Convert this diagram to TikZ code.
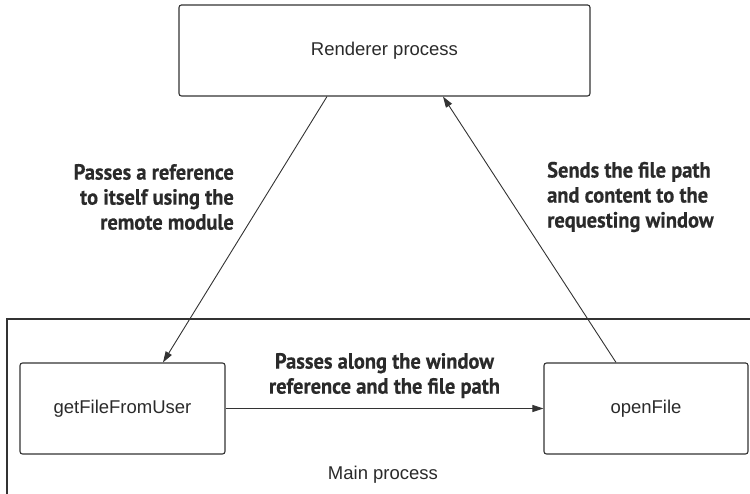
\documentclass[tikz,border=0pt]{standalone}
\usepackage{fontspec}
\setmainfont{Liberation Sans}
\newfontfamily\lblfont[FakeStretch=0.93, BoldFeatures={FakeBold=0.5}]{PT Sans}
\usepackage{tikz}
\usetikzlibrary{arrows.meta, positioning}
\definecolor{mline}{HTML}{333333}
\definecolor{mtext}{HTML}{2A2A2A}
\tikzset{
  fnbox/.style={draw=mline, rounded corners=2.5pt, line width=1.1pt,
                minimum width=205pt, minimum height=91pt, inner sep=0pt,
                font=\fontsize{18.5}{22}\selectfont, text=mtext},
  lbl/.style={font=\lblfont\bfseries\fontsize{22}{25}\selectfont, text=mtext, inner sep=0pt},
  arr/.style={-{Triangle[length=11pt, width=7pt]}, line width=0.9pt, mline},
}
\begin{document}
\begin{tikzpicture}[x=1pt, y=1pt]
  \useasboundingbox (0,0) rectangle (750,494);
  \clip (0,0) rectangle (750,494);
  % main process frame runs past the page edge
  \draw[mline, line width=1.1pt] (7,-20) -- (7,175) -- (770,175);
  \node[font=\fontsize{18.5}{22}\selectfont, text=mtext, anchor=base] (mainlbl) at (383,14) {Main process};

  \node[fnbox, minimum width=411pt] (renderer) at (384.5,443.5) {Renderer process};
  \node[fnbox] (getfile) at (122.5,85.5) {getFileFromUser};
  \node[fnbox, minimum width=204pt] (openfile) at (646,85.5) {openFile};

  \draw[arr] ([xshift=-57.5pt]renderer.south) -- ([xshift=40.5pt]getfile.north);
  \draw[arr] ([xshift=-30pt]openfile.north) -- ([xshift=58.5pt]renderer.south);
  \draw[arr] (getfile.east) -- (openfile.west)
    node[midway, above=10pt, lbl, align=center] (passlbl)
    {Passes along the window\\reference and the file path};

  \node[lbl, align=right, anchor=east] (reflbl) at (234,297)
    {Passes a reference\\to itself using the\\remote module};
  \node[lbl, align=left, anchor=west] (sendlbl) at (547,297)
    {Sends the file path\\and content to the\\requesting window};
\end{tikzpicture}
\end{document}
